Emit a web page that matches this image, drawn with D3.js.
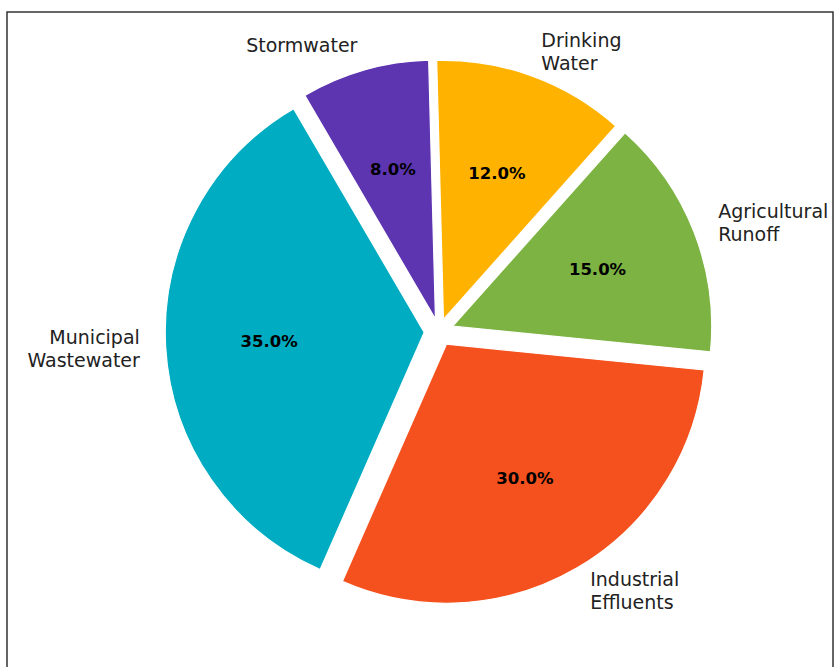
<!DOCTYPE html>
<html>
<head>
<meta charset="utf-8">
<script src="https://cdn.jsdelivr.net/npm/d3@7"></script>
<style>
  html, body { margin: 0; padding: 0; background: #fff; }
  svg { display: block; }
</style>
</head>
<body>
<svg id="chart" width="834" height="667"></svg>
<script>
// Sources of water pollution, share of total (%)
const categories = ["Stormwater", "Municipal Wastewater", "Industrial Effluents", "Agricultural Runoff", "Drinking Water"];
const labelLines = [["Stormwater"], ["Municipal", "Wastewater"], ["Industrial", "Effluents"], ["Agricultural", "Runoff"], ["Drinking", "Water"]];
const shares = [8, 35, 30, 15, 12];
const colors = ["#5E35B1", "#00ACC1", "#F4511E", "#7CB342", "#FFB300"];
const explode = [0.05, 0.057, 0.057, 0.057, 0.05];

const svg = d3.select("#chart");
const cx = 439, cy = 331.5, R = 259;
const rot = -1.5 * Math.PI / 180;   // first wedge starts just left of 12 o'clock

// frame around the plot area
svg.append("rect")
  .attr("x", 7).attr("y", 12)
  .attr("width", 826).attr("height", 700)
  .attr("fill", "none")
  .attr("stroke", "#333")
  .attr("stroke-width", 1.5);

const data = categories.map((c, i) => ({ name: c, lines: labelLines[i], value: shares[i], color: colors[i], explode: explode[i] }));

// wedges run counter-clockwise
const pie = d3.pie().value(d => d.value).sort(null).startAngle(rot).endAngle(rot - 2 * Math.PI);
const arcs = pie(data);
const arc = d3.arc().innerRadius(0).outerRadius(R);

const total = d3.sum(shares);
const fmt = d3.format(".1f");

const g = svg.append("g").attr("transform", `translate(${cx},${cy})`);

function dir(a) {
  const m = (a.startAngle + a.endAngle) / 2;
  return [Math.sin(m), -Math.cos(m)];
}

const slices = g.selectAll("g.slice").data(arcs).enter().append("g")
  .attr("class", "slice")
  .attr("transform", d => {
    const [dx, dy] = dir(d);
    const off = d.data.explode * R;
    return `translate(${dx * off},${dy * off})`;
  });

slices.append("path")
  .attr("d", arc)
  .attr("fill", d => d.data.color)
  .attr("stroke", "#fff")
  .attr("stroke-width", 1.2);

// percentage labels inside each wedge
slices.append("text")
  .attr("x", d => dir(d)[0] * 0.6 * R)
  .attr("y", d => dir(d)[1] * 0.6 * R)
  .attr("text-anchor", "middle")
  .attr("dominant-baseline", "central")
  .attr("font-family", "DejaVu Sans, sans-serif")
  .attr("font-weight", "bold")
  .attr("font-size", 16.5)
  .attr("fill", "#000")
  .text(d => fmt(d.data.value / total * 100) + "%");

// category labels outside the wedges
const lineH = 23;
slices.append("text")
  .attr("font-family", "DejaVu Sans, sans-serif")
  .attr("font-size", 19)
  .attr("fill", "#222")
  .attr("text-anchor", d => dir(d)[0] >= 0 ? "start" : "end")
  .each(function(d) {
    const [dx, dy] = dir(d);
    const x = dx * 1.1 * R, y = dy * 1.1 * R;
    const n = d.data.lines.length;
    d3.select(this).selectAll("tspan").data(d.data.lines).enter().append("tspan")
      .attr("x", x)
      .attr("y", (t, i) => y + (i - (n - 1) / 2) * lineH)
      .attr("dominant-baseline", "central")
      .text(t => t);
  });
</script>
</body>
</html>
